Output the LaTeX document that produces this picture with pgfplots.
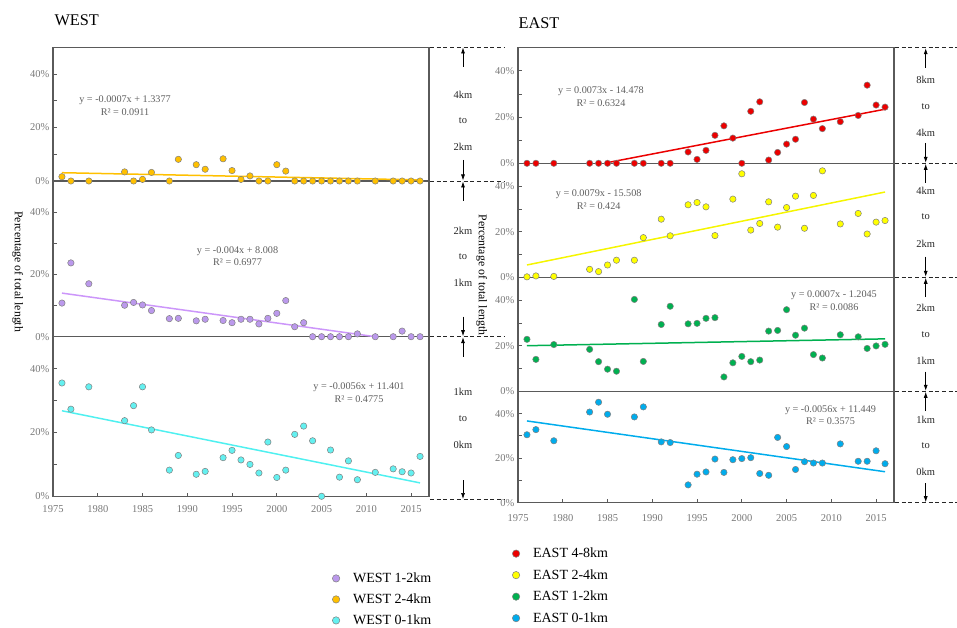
\documentclass[border=0pt]{standalone}
\usepackage{pgfplots}
\pgfplotsset{compat=1.18}
\usepackage{fontspec}
\setmainfont{Liberation Serif}
\usetikzlibrary{arrows.meta}

\definecolor{wpur}{RGB}{187,153,236}
\definecolor{wpurl}{RGB}{204,150,250}
\definecolor{wora}{RGB}{255,192,0}
\definecolor{wcya}{RGB}{100,240,240}
\definecolor{wcyal}{RGB}{80,240,240}
\definecolor{ered}{RGB}{235,0,0}
\definecolor{eyel}{RGB}{255,255,0}
\definecolor{eyell}{RGB}{245,245,0}
\definecolor{egrn}{RGB}{0,176,80}
\definecolor{eblu}{RGB}{0,172,236}
\definecolor{framec}{RGB}{90,90,90}
\definecolor{tickc}{RGB}{120,120,120}
\definecolor{eqc}{RGB}{95,95,95}

\pgfplotsset{
  panel/.style={
    scale only axis, width=376pt,
    xmin=1975, xmax=2017, ymin=0, ymax=50,
    axis line style={draw=framec, line width=1.1pt},
    ytick={0,20,40}, yticklabels={0\%,20\%,40\%},
    minor ytick={10,30},
    tick style={draw=framec, line width=0.8pt},
    major tick length=3.5pt, minor tick length=3.5pt,
    tick align=inside,
    ytick pos=left, xtick pos=bottom,
    xtick=\empty,
    ticklabel style={font=\fontsize{10.5}{12}\selectfont, text=tickc},
    clip=false,
    legend image code/.code={\draw[#1] plot coordinates {(0pt,0pt)};},
  },
  xyears/.style={xtick={1975,1980,1985,1990,1995,2000,2005,2010,2015},
    xticklabels={1975,1980,1985,1990,1995,2000,2005,2010,2015},
    xticklabel style={yshift=-#1}},
  dots/.style={only marks, mark=*, mark size=3.2pt, mark options={fill=#1, draw=black!50, line width=0.5pt}},
  legdot/.style={mark=*, mark size=3.7pt, mark options={fill=#1, draw=black!50, line width=0.5pt}},
  trend/.style={no marks, draw=#1, line width=1.5pt},
}

\tikzset{
  dsh/.style={draw=black!85, line width=0.8pt, dash pattern=on 4pt off 2.7pt},
  arr/.style={draw=black, line width=0.7pt, -{Latex[length=6pt,width=4pt]}},
  km/.style={font=\fontsize{10.5}{12}\selectfont, text=black!85},
  eq/.style={font=\fontsize{10.2}{12.7}\selectfont, text=eqc, align=center},
}

\begin{document}
\begin{tikzpicture}
\useasboundingbox (0pt,0pt) rectangle (957pt,-628pt);

% ================= WEST =================
% W3 : 0-1 km (cyan)
\begin{axis}[panel, xyears=6pt, height=159.6pt, at={(53pt,-496.3pt)}, anchor=south west,
  legend style={at={(axis description cs:0.7425,-0.478)}, anchor=north west, draw=none, fill=none,
    inner sep=0pt, font=\fontsize{14}{16}\selectfont, row sep=9.8pt, column sep=13.3pt,
    nodes={inner sep=0pt}},
  legend cell align=left]
\addplot[trend=wcyal, forget plot] coordinates {(1976,26.8) (2016,4.2)};
\addplot[dots=wcya, forget plot] coordinates {
(1976,35.5) (1977,27.3) (1979,34.3) (1983,23.7) (1984,28.4) (1985,34.3) (1986,20.8)
(1988,8.2) (1989,12.8) (1991,6.9) (1992,7.8) (1994,12.1) (1995,14.4) (1996,11.4)
(1997,10.0) (1998,7.3) (1999,17.0) (2000,5.9) (2001,8.2) (2002,19.4) (2003,22.0)
(2004,17.4) (2005,0.0) (2006,14.5) (2007,6.0) (2008,11.1) (2009,5.2) (2011,7.5)
(2013,8.6) (2014,7.7) (2015,7.3) (2016,12.5)};
\addlegendimage{legdot=wpur}\addlegendentry{WEST 1-2km}
\addlegendimage{legdot=wora}\addlegendentry{WEST 2-4km}
\addlegendimage{legdot=wcya}\addlegendentry{WEST 0-1km}
\end{axis}

% W2 : 1-2 km (purple)
\begin{axis}[panel, height=155.7pt, at={(53pt,-336.7pt)}, anchor=south west]
\addplot[trend=wpurl] coordinates {(1976,14.0) (2011,0.0)};
\addplot[dots=wpur] coordinates {
(1976,10.8) (1977,23.7) (1979,17.0) (1983,10.1) (1984,11.0) (1985,10.2) (1986,8.4)
(1988,5.8) (1989,5.9) (1991,5.1) (1992,5.6) (1994,5.2) (1995,4.5) (1996,5.6)
(1997,5.6) (1998,4.1) (1999,5.9) (2000,7.5) (2001,11.6) (2002,3.2) (2003,4.5)
(2004,0) (2005,0) (2006,0) (2007,0) (2008,0) (2009,0.9) (2011,0)
(2013,0) (2014,1.8) (2015,0) (2016,0)};
\end{axis}

% W1 : 2-4 km (orange)
\begin{axis}[panel, height=133.75pt, at={(53pt,-181pt)}, anchor=south west]
\addplot[trend=wora] coordinates {(1976,3.1) (2016,0.4)};
\addplot[dots=wora] coordinates {
(1976,1.6) (1977,0) (1979,0) (1983,3.4) (1984,0) (1985,0.6) (1986,3.2)
(1988,0) (1989,8.1) (1991,6.1) (1992,4.4) (1994,8.3) (1995,3.9) (1996,0.6)
(1997,1.9) (1998,0) (1999,0) (2000,6.1) (2001,3.7) (2002,0) (2003,0)
(2004,0) (2005,0) (2006,0) (2007,0) (2008,0) (2009,0) (2011,0)
(2013,0) (2014,0) (2015,0) (2016,0)};
\end{axis}

% ================= EAST =================
% E4 : 0-1 km (blue)
\begin{axis}[panel, xyears=8pt, height=111.4pt, at={(518pt,-502.7pt)}, anchor=south west,
  legend style={at={(axis description cs:-0.0155,-0.405)}, anchor=north west, draw=none, fill=none,
    inner sep=0pt, font=\fontsize{14}{16}\selectfont, row sep=10.3pt, column sep=13.3pt,
    nodes={inner sep=0pt}},
  legend cell align=left]
\addplot[trend=eblu, forget plot] coordinates {(1976,36.7) (2016,13.9)};
\addplot[dots=eblu, forget plot] coordinates {
(1976,30.5) (1977,32.8) (1979,27.8) (1983,40.7) (1984,45.1) (1985,39.7)
(1988,38.5) (1989,43.0) (1991,27.3) (1992,27.0) (1994,8.0) (1995,12.8) (1996,13.8)
(1997,19.6) (1998,13.6) (1999,19.3) (2000,19.8) (2001,20.2) (2002,13.1) (2003,12.3)
(2004,29.3) (2005,25.2) (2006,14.9) (2007,18.4) (2008,17.8) (2009,17.8) (2011,26.4)
(2013,18.6) (2014,18.6) (2015,23.3) (2016,17.5)};
\addlegendimage{legdot=ered}\addlegendentry{EAST 4-8km}
\addlegendimage{legdot=eyel}\addlegendentry{EAST 2-4km}
\addlegendimage{legdot=egrn}\addlegendentry{EAST 1-2km}
\addlegendimage{legdot=eblu}\addlegendentry{EAST 0-1km}
\end{axis}

% E3 : 1-2 km (green)
\begin{axis}[panel, height=114pt, at={(518pt,-391.3pt)}, anchor=south west]
\addplot[trend=egrn] coordinates {(1976,20.0) (2016,23.0)};
\addplot[dots=egrn] coordinates {
(1976,22.8) (1977,14.0) (1979,20.5) (1983,18.4) (1984,13.0) (1985,9.7) (1986,8.8)
(1988,40.3) (1989,13.1) (1991,29.3) (1992,37.3) (1994,29.6) (1995,29.8) (1996,32.0)
(1997,32.3) (1998,6.3) (1999,12.5) (2000,15.3) (2001,13.0) (2002,13.7) (2003,26.4)
(2004,26.7) (2005,35.8) (2006,24.6) (2007,27.7) (2008,16.1) (2009,14.6) (2011,24.8)
(2013,23.9) (2014,18.8) (2015,19.9) (2016,20.6)};
\end{axis}

% E2 : 2-4 km (yellow)
\begin{axis}[panel, height=114pt, at={(518pt,-277.3pt)}, anchor=south west]
\addplot[trend=eyell] coordinates {(1976,5.4) (2016,37.4)};
\addplot[dots=eyel] coordinates {
(1976,0.2) (1977,0.6) (1979,0.4) (1983,3.5) (1984,2.5) (1985,5.4) (1986,7.5)
(1988,7.5) (1989,17.4) (1991,25.5) (1992,18.2) (1994,31.8) (1995,32.8) (1996,30.9)
(1997,18.3) (1999,34.3) (2000,45.4) (2001,20.7) (2002,23.6) (2003,33.1)
(2004,22.0) (2005,30.6) (2006,35.6) (2007,21.5) (2008,35.9) (2009,46.7) (2011,23.4)
(2013,28.0) (2014,19.0) (2015,24.2) (2016,24.9)};
\end{axis}

% E1 : 4-8 km (red)
\begin{axis}[panel, height=115.6pt, at={(518pt,-163.3pt)}, anchor=south west]
\addplot[trend=ered] coordinates {(1985,0.3) (2016,23.4)};
\addplot[dots=ered] coordinates {
(1976,0) (1977,0) (1979,0) (1983,0) (1984,0) (1985,0) (1986,0)
(1988,0) (1989,0) (1991,0) (1992,0) (1994,4.9) (1995,1.7) (1996,5.6)
(1997,12.1) (1998,16.2) (1999,10.9) (2000,0) (2001,22.5) (2002,26.6) (2003,1.4)
(2004,4.7) (2005,8.3) (2006,10.4) (2007,26.3) (2008,19.1) (2009,15.0) (2011,18.0)
(2013,20.7) (2014,33.8) (2015,25.2) (2016,24.3)};
\end{axis}

% ================= annotations =================
\node[anchor=west, font=\fontsize{16.3}{18}\selectfont] at (51pt,-20pt) {WEST};
\node[anchor=west, font=\fontsize{16.3}{18}\selectfont] at (515pt,-23pt) {EAST};

\node[rotate=-90, font=\fontsize{11.8}{13}\selectfont] at (17.7pt,-271.7pt) {Percentage of total length};
\node[rotate=-90, font=\fontsize{11.8}{13}\selectfont] at (481.7pt,-275pt) {Percentage of total length};

% equations
\node[eq] at (125pt,-105.5pt) {y = -0.0007x + 1.3377\\R² = 0.0911};
\node[eq] at (237.5pt,-256.2pt) {y = -0.004x + 8.008\\R² = 0.6977};
\node[eq] at (359pt,-393pt) {y = -0.0056x + 11.401\\R² = 0.4775};
\node[eq] at (601pt,-96.5pt) {y = 0.0073x - 14.478\\R² = 0.6324};
\node[eq] at (598.7pt,-199.7pt) {y = 0.0079x - 15.508\\R² = 0.424};
\node[eq] at (834pt,-300.8pt) {y = 0.0007x - 1.2045\\R² = 0.0086};
\node[eq] at (830.5pt,-415.3pt) {y = -0.0056x + 11.449\\R² = 0.3575};

% WEST dashed boundaries
\foreach \yy in {47,181,336.7,499.5} {\draw[dsh] (430pt,-\yy pt) -- (505pt,-\yy pt);}
% EAST dashed boundaries
\foreach \yy in {47.7,163.3,277.3,391.3,502.7} {\draw[dsh] (895pt,-\yy pt) -- (957pt,-\yy pt);}

% WEST arrows and range labels
\draw[arr] (463pt,-67pt) -- (463pt,-47.5pt);
\draw[arr] (463pt,-160pt) -- (463pt,-180.5pt);
\draw[arr] (463pt,-201pt) -- (463pt,-181.5pt);
\draw[arr] (463pt,-316.7pt) -- (463pt,-336.2pt);
\draw[arr] (463pt,-356.7pt) -- (463pt,-337.2pt);
\draw[arr] (463pt,-480pt) -- (463pt,-499pt);
\node[km] at (463pt,-95pt) {4km};
\node[km] at (463pt,-121pt) {to};
\node[km] at (463pt,-147pt) {2km};
\node[km] at (463pt,-230.7pt) {2km};
\node[km] at (463pt,-256.7pt) {to};
\node[km] at (463pt,-283.3pt) {1km};
\node[km] at (463pt,-391.7pt) {1km};
\node[km] at (463pt,-418.3pt) {to};
\node[km] at (463pt,-445pt) {0km};

% EAST arrows and range labels
\draw[arr] (925.7pt,-68pt) -- (925.7pt,-48.2pt);
\draw[arr] (925.7pt,-143pt) -- (925.7pt,-162.8pt);
\draw[arr] (925.7pt,-183pt) -- (925.7pt,-163.8pt);
\draw[arr] (925.7pt,-256.7pt) -- (925.7pt,-276.8pt);
\draw[arr] (925.7pt,-297pt) -- (925.7pt,-277.8pt);
\draw[arr] (925.7pt,-371.7pt) -- (925.7pt,-390.8pt);
\draw[arr] (925.7pt,-411pt) -- (925.7pt,-391.8pt);
\draw[arr] (925.7pt,-483pt) -- (925.7pt,-502.2pt);
\node[km] at (925.7pt,-80pt) {8km};
\node[km] at (925.7pt,-107pt) {to};
\node[km] at (925.7pt,-133pt) {4km};
\node[km] at (925.7pt,-191pt) {4km};
\node[km] at (925.7pt,-217pt) {to};
\node[km] at (925.7pt,-243.7pt) {2km};
\node[km] at (925.7pt,-307.7pt) {2km};
\node[km] at (925.7pt,-335pt) {to};
\node[km] at (925.7pt,-361pt) {1km};
\node[km] at (925.7pt,-420pt) {1km};
\node[km] at (925.7pt,-446pt) {to};
\node[km] at (925.7pt,-472pt) {0km};
\end{tikzpicture}
\end{document}
